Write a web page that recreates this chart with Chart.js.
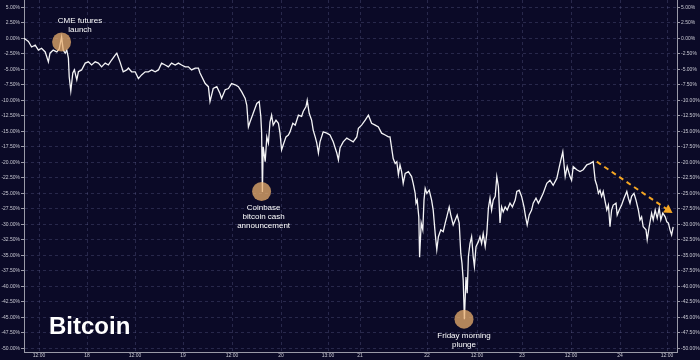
<!DOCTYPE html>
<html><head><meta charset="utf-8">
<script src="https://cdn.jsdelivr.net/npm/chart.js@4.4.1/dist/chart.umd.min.js"></script>
<style>html,body{margin:0;padding:0;background:#0b0a27;}canvas{display:block;}</style>
</head><body>
<canvas id="c" width="700" height="360"></canvas>
<script>
// Hours along the (compressed) trading axis and % change of Bitcoin
const hours = [0,1.1,1.9,2.8,3.6,4.4,5.3,6.1,6.5,7.3,8.2,8.8,9.4,9.8,10.3,10.7,11.1,11.3,11.7,12.2,12.6,13.2,13.6,14.4,15.3,16.1,16.9,17.8,18.6,19.4,20.3,21.1,21.9,22.8,23.2,24,24.4,24.8,25.7,26.1,26.9,27.8,28.6,29.4,30.3,31.1,31.9,32.8,33.6,34.4,35.3,36.1,36.9,37.8,38.6,39.4,40.3,41.1,41.9,42.8,43.6,44,45.3,46.1,46.5,47.3,48.2,49,49.4,50.3,51.1,51.9,52.8,53.6,54.4,55.3,55.7,56.1,56.5,57.3,58.2,58.8,59.2,59.4,59.6,59.8,60.3,60.7,61.1,61.5,61.9,62.3,63,63.6,64,64.4,64.8,65.5,66.1,66.5,67.2,67.8,68.6,69.4,69.8,70.5,70.8,71.3,71.9,72.3,72.8,73.2,73.6,74,74.8,75.7,76.5,77.3,78.2,78.6,79,79.8,80.7,81.5,82.3,83.2,83.6,84.4,85.3,86.1,86.9,87.8,88.6,89.4,90.3,91.1,91.5,92.3,92.8,93.2,93.6,94,94.4,94.8,95.3,96.1,96.9,97.3,97.8,98,98.3,98.7,98.9,99.3,99.7,100,100.3,100.7,101.3,101.9,102.3,102.8,103.2,103.6,104.2,104.8,105.3,105.7,106.3,106.7,107.3,107.8,108.3,108.8,109.2,109.5,109.8,110.1,110.5,110.8,111.1,111.5,111.9,112.3,112.6,113,113.6,114,114.4,114.8,115.3,115.7,116.1,116.5,116.9,117.3,117.8,118.2,118.6,119,119.4,119.8,120.3,120.8,121.5,122.1,122.8,123.2,123.8,124.4,125,125.4,125.8,126.3,126.9,127.3,128,128.6,129,129.8,130.7,131.5,132.3,133.2,134,134.7,135.3,135.8,136.5,136.9,137.3,138.2,139,139.8,140.7,141.5,142.3,142.8,143.2,143.6,144,144.4,144.8,145.3,145.7,146.1,146.5,146.9,147.3,148,148.3,148.8,149.4,150,150.7,151.1,151.5,151.9,152.5,153,153.6,154,154.4,154.8,155.5,155.8,156.3,156.9,157.3,157.8,158.3,158.8,159.2,159.7,160.3,160.7,161.1,161.5,161.9,162.3];
const pct = [0,-0.5,-1.4,-1.1,-1.9,-1.6,-2.2,-3.8,-2.4,-1.9,-2.2,-1.7,0.2,-1.9,-2.4,-1.9,-3.2,-6.2,-8.5,-5.6,-5.1,-6.7,-5.4,-5.1,-4.0,-3.8,-4.3,-3.8,-4.0,-4.6,-4.0,-4.3,-3.5,-2.7,-2.4,-3.8,-4.6,-5.4,-5.1,-4.8,-5.4,-5.4,-6.5,-5.9,-5.4,-5.4,-5.1,-5.4,-5.1,-4.0,-4.3,-4.6,-4.0,-4.3,-4.0,-4.3,-4.6,-4.6,-5.1,-4.8,-4.8,-5.6,-7.3,-7.8,-10.2,-8.1,-7.8,-8.9,-9.7,-8.3,-8.1,-7.3,-7.5,-7.8,-8.6,-9.7,-10.8,-14.3,-13.5,-12.1,-10.5,-10.2,-12.6,-15.1,-24.8,-17.5,-19.9,-15.9,-16.9,-13.5,-12.4,-14.0,-13.2,-13.7,-15.3,-18.0,-17.2,-15.9,-15.6,-15.1,-13.7,-14.0,-12.4,-12.6,-11.8,-11.0,-10.0,-12.1,-13.2,-14.8,-15.9,-16.9,-18.5,-16.7,-15.1,-15.3,-15.6,-16.7,-18.5,-19.6,-17.7,-16.7,-16.1,-16.4,-16.7,-15.9,-14.5,-14.0,-13.2,-12.4,-13.7,-14.0,-14.3,-15.3,-15.6,-15.9,-15.9,-19.4,-20.2,-19.9,-22.0,-20.4,-21.5,-23.4,-21.8,-21.5,-22.3,-23.4,-25.0,-26.6,-26.1,-28.8,-35.3,-29.8,-30.9,-26.1,-24.2,-25.0,-24.5,-26.1,-27.7,-31.5,-34.1,-32.0,-30.9,-31.2,-29.8,-28.8,-27.2,-28.5,-30.1,-29.3,-28.5,-29.8,-34.7,-36.3,-39.0,-45.3,-38.5,-41.1,-35.2,-33.1,-32.0,-35.2,-36.8,-33.6,-32.8,-32.0,-33.1,-31.5,-33.6,-31.5,-27.4,-25.8,-27.7,-26.1,-25.5,-22.3,-23.9,-29.8,-27.2,-28.0,-27.2,-27.7,-26.6,-27.2,-26.1,-24.7,-24.5,-25.5,-27.2,-28.8,-30.1,-28.5,-27.7,-26.6,-25.8,-26.6,-26.1,-25.0,-23.4,-22.9,-23.7,-22.6,-20.2,-18.3,-22.3,-20.7,-22.3,-22.9,-20.7,-21.2,-21.5,-21.2,-20.4,-20.2,-19.9,-22.9,-23.7,-25.0,-24.5,-25.5,-24.7,-26.4,-27.7,-26.9,-30.4,-27.7,-26.9,-26.6,-28.5,-27.7,-26.9,-25.8,-24.7,-25.8,-26.6,-25.5,-25.0,-26.1,-27.7,-29.3,-28.8,-30.4,-30.9,-32.5,-30.4,-28.2,-29.3,-27.7,-29.0,-27.4,-29.3,-28.2,-28.8,-29.6,-29.8,-30.9,-31.7,-30.4];

const xTickHours  = [3.75, 15.75, 27.75, 39.75, 52, 64.25, 76, 84, 100.75, 113.25, 124.5, 136.75, 149, 160.75];
const xTickLabels = ['12:00','18','12:00','19','12:00','20','13:00','21','22','12:00','23','12:00','24','12:00'];
const yTickValues = [5,2.5,0,-2.5,-5,-7.5,-10,-12.5,-15,-17.5,-20,-22.5,-25,-27.5,-30,-32.5,-35,-37.5,-40,-42.5,-45,-47.5,-50];

const markerHours = [9.4, 59.4, 110.0];
const markerPct   = [-0.6, -24.7, -45.3];
const noteHours = [14.0, 59.9, 110.0];
const notePct   = [2.85, -27.4, -48.0];
const noteLines = [['CME futures','launch'],['Coinbase','bitcoin cash','announcement'],['Friday morning','plunge']];
const trendHours = [143.2, 161.0];
const trendPct   = [-19.9, -27.7];
const chartTitle = 'Bitcoin';

const FONT = '"Liberation Sans", Arial, sans-serif';
const GRID = 'rgba(120,120,170,0.28)';
const AXIS = '#9a9aa8';
const TICKC = '#c8c8d2';

const bgPlugin = {
  id: 'bg',
  beforeDraw(chart) {
    const ctx = chart.ctx;
    ctx.save();
    ctx.fillStyle = '#0b0a27';
    ctx.fillRect(0, 0, chart.width, chart.height);
    ctx.restore();
  }
};
const notesPlugin = {
  id: 'notes',
  afterDatasetsDraw(chart) {
    const {ctx, scales: {x, y}, chartArea} = chart;
    ctx.save();
    ctx.fillStyle = '#ffffff';
    ctx.font = '8px ' + FONT;
    ctx.textAlign = 'center';
    ctx.textBaseline = 'middle';
    noteLines.forEach((lines, i) => {
      const px = x.getPixelForValue(noteHours[i]);
      const py = y.getPixelForValue(notePct[i]);
      lines.forEach((t, j) => ctx.fillText(t, px, py + j * 9));
    });
    ctx.font = 'bold 24px ' + FONT;
    ctx.textAlign = 'left';
    ctx.textBaseline = 'alphabetic';
    ctx.fillText(chartTitle, chartArea.left + 25, chartArea.bottom - 18);
    ctx.restore();
  }
};

function yAxis(pos, w) {
  return {
    type: 'linear', position: pos, min: -50.6, max: 6.18,
    afterBuildTicks: s => { s.ticks = yTickValues.map(v => ({value: v})); },
    afterFit: s => { s.width = w; s.paddingTop = 0; s.paddingBottom = 0; },
    ticks: { callback: v => v.toFixed(2) + '%', color: TICKC, font: {size: 5, family: FONT}, padding: 1, autoSkip: false },
    grid: { color: GRID, lineWidth: 1, tickLength: 3, tickColor: AXIS, drawOnChartArea: pos === 'left' },
    border: { display: true, color: AXIS, width: 1, dash: [3, 3] }
  };
}

new Chart(document.getElementById('c'), {
  type: 'line',
  data: {
    datasets: [
      {
        data: hours.map((h, i) => ({x: h, y: pct[i]})),
        borderColor: '#f4f4f6', borderWidth: 1.3, pointRadius: 0, tension: 0, order: 2
      },
      {
        data: trendHours.map((h, i) => ({x: h, y: trendPct[i]})),
        borderColor: '#f5a623', borderWidth: 2, borderDash: [5, 4],
        pointRadius: [0, 5.5], pointStyle: 'triangle', pointRotation: 124,
        pointBackgroundColor: '#f5a623', pointBorderColor: '#f5a623', pointBorderWidth: 0,
        order: 1
      },
      {
        data: markerHours.map((h, i) => ({x: h, y: markerPct[i]})),
        showLine: false, pointRadius: 9.5, pointStyle: 'circle',
        pointBackgroundColor: 'rgba(235,175,110,0.75)', pointBorderWidth: 0, order: 0
      }
    ]
  },
  options: {
    responsive: false, animation: false, devicePixelRatio: 1,
    layout: { padding: 0, autoPadding: false },
    plugins: { legend: { display: false }, tooltip: { enabled: false } },
    scales: {
      x: {
        type: 'linear', min: 0, max: 163.25,
        afterBuildTicks: s => { s.ticks = xTickHours.map(v => ({value: v})); },
        afterFit: s => { s.height = 8; s.paddingLeft = 0; s.paddingRight = 0; },
        ticks: { callback: (v, i) => xTickLabels[i], autoSkip: false, maxRotation: 0, color: TICKC, font: {size: 5, family: FONT}, padding: 0 },
        grid: { color: GRID, lineWidth: 1, tickLength: 1, tickColor: AXIS },
        border: { display: true, color: AXIS, width: 1, dash: [3, 3] }
      },
      y: yAxis('left', 24),
      y2: yAxis('right', 23)
    }
  },
  plugins: [bgPlugin, notesPlugin]
});
</script>
</body></html>
